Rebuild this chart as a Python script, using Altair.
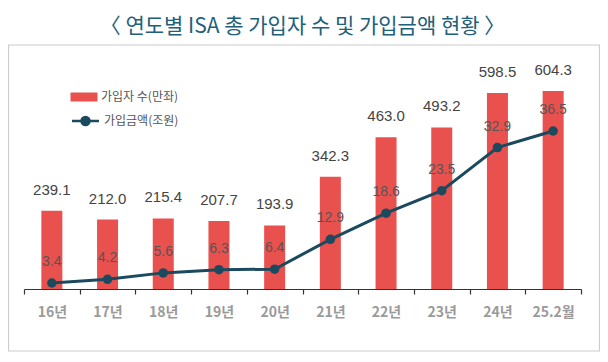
import altair as alt
import pandas as pd

years = ["16년", "17년", "18년", "19년", "20년", "21년", "22년", "23년", "24년", "25.2월"]
accounts = [239.1, 212.0, 215.4, 207.7, 193.9, 342.3, 463.0, 493.2, 598.5, 604.3]
amounts = [3.4, 4.2, 5.6, 6.3, 6.4, 12.9, 18.6, 23.5, 32.9, 36.5]
bar_name = "가입자 수(만좌)"
line_name = "가입금액(조원)"
title_text = "〈 연도별 ISA 총 가입자 수 및 가입금액 현황 〉"

df = pd.DataFrame({"year": years, "accounts": accounts, "amounts": amounts,
                   "s1": bar_name, "s2": line_name})

FONT = "Noto Sans CJK KR"
NUMFONT = "Liberation Sans"
RED = "#e9514f"
NAVY = "#1b4a5e"

x = alt.X("year:N", sort=years, title=None,
          scale=alt.Scale(paddingInner=0, paddingOuter=0),
          axis=alt.Axis(labelAngle=0, tickBand="extent", domainColor="#333", tickColor="#333",
                        tickSize=5, domainWidth=1.2, tickWidth=1.2,
                        labelColor="#9a9a9a", labelFont=FONT, labelFontSize=14,
                        labelFontWeight="bold", labelPadding=11, grid=False))
ybar = alt.Y("accounts:Q", scale=alt.Scale(domain=[0, 699], nice=False, zero=False), axis=None)
yline = alt.Y("amounts:Q", scale=alt.Scale(domain=[2.09, 51.96], nice=False, zero=False), axis=None)

base = alt.Chart(df)

bars = base.mark_bar(size=21).encode(
    x=x, y=ybar,
    color=alt.Color("s1:N", scale=alt.Scale(domain=[bar_name], range=[RED]),
                    legend=alt.Legend(title=None, orient="none", legendX=51, legendY=28,
                                      symbolType="M-1.5,-0.5H1.5V0.5H-1.5Z", symbolSize=324,
                                      symbolStrokeWidth=0, labelOffset=8,
                                      labelFont=FONT, labelFontSize=12, labelColor="#555")))
bar_text = base.mark_text(baseline="bottom", dy=-13, font=NUMFONT, fontSize=15, color="#444").encode(
    x=x, y=ybar, text=alt.Text("accounts:Q", format=".1f"))

line = base.mark_line(strokeWidth=3).encode(
    x=x, y=yline,
    stroke=alt.Stroke("s2:N", scale=alt.Scale(domain=[line_name], range=[NAVY]),
                      legend=alt.Legend(title=None, orient="none", legendX=51, legendY=50.5,
                                        symbolType="M-1.5,0H1.5M0.45,0A0.45,0.45,0,1,1,-0.45,0A0.45,0.45,0,1,1,0.45,0",
                                        symbolSize=324, symbolStrokeWidth=2.5, symbolFillColor=NAVY,
                                        labelOffset=8,
                                        labelFont=FONT, labelFontSize=12, labelColor="#555")))
points = base.mark_circle(size=90, opacity=1, color=NAVY).encode(x=x, y=yline)
line_text = base.mark_text(baseline="bottom", dy=-14, font=NUMFONT, fontSize=14, color="#555").encode(
    x=x, y=yline, text=alt.Text("amounts:Q", format=".1f"))

border = alt.Chart(pd.DataFrame({"a": [0]})).mark_rect(
    fill=None, stroke="#cccccc", strokeWidth=1.2).encode(
    x=alt.value(-15.5), x2=alt.value(575.5), y=alt.value(-15), y2=alt.value(291))

chart = alt.layer(border, bars, bar_text, line, points, line_text).resolve_scale(
    y="independent").properties(
    width=557, height=229,
    title=alt.TitleParams(title_text, font=FONT, fontSize=21, fontWeight="normal",
                          color="#21607a", anchor="middle", offset=7),
    autosize=alt.AutoSizeParams(type="none"),
    padding={"left": 16, "top": 52, "right": 19, "bottom": 63},
).configure_view(stroke=None)

chart.save("out.html", embed_options={"renderer": "svg", "actions": False})
